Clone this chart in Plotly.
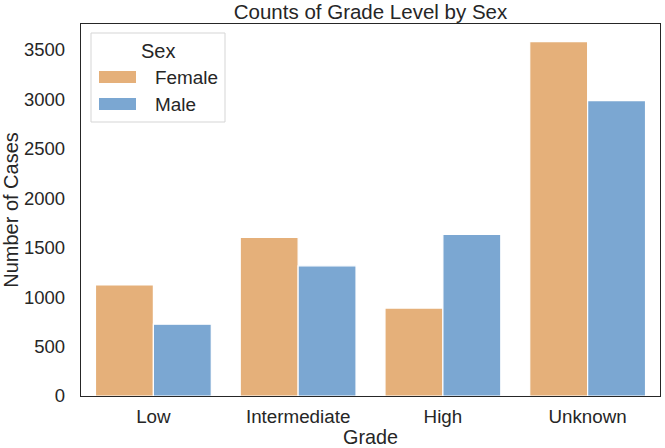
import plotly.graph_objects as go

# ---- data ----
grades = ["Low", "Intermediate", "High", "Unknown"]
sexes = ["Female", "Male"]
female_counts = [1122, 1603, 888, 3580]
male_counts = [726, 1315, 1633, 2985]
colors = ["#E5B07A", "#7BA7D2"]

series = [female_counts, male_counts]

W, H = 665, 448
L, R, T, B = 81, 5, 24, 52
PW, PH = W - L - R, H - T - B

def px(x):
    return (x - L) / PW

def py(y):
    return (H - B - y) / PH

fig = go.Figure()
for name, vals, col in zip(sexes, series, colors):
    fig.add_trace(go.Bar(
        x=grades, y=vals, name=name,
        marker=dict(color=col, line=dict(color="white", width=1.2)),
        showlegend=False,
    ))

font_fam = "Liberation Sans, Arial, sans-serif"
txt_col = "#262626"

fig.update_layout(
    width=W, height=H,
    margin=dict(l=L, r=R, t=T, b=B),
    paper_bgcolor="white", plot_bgcolor="white",
    barmode="group", bargap=0.2, bargroupgap=0,
    font=dict(family=font_fam, color=txt_col, size=18.7),
    title=dict(text="Counts of Grade Level by Sex", xref="paper", x=0.5, xanchor="center",
               yref="container", y=1 - 12 / H, yanchor="middle",
               font=dict(size=20.5, color=txt_col)),
    xaxis=dict(
        range=[-0.5, 3.5], showline=True, linecolor="#262626", linewidth=1.3,
        mirror=True, ticks="", showgrid=False, zeroline=False,
        tickfont=dict(size=18.8), ticklabelstandoff=3,
        title=dict(text="Grade", font=dict(size=19.8), standoff=0),
    ),
    yaxis=dict(
        range=[0, 3759], tickvals=[0, 500, 1000, 1500, 2000, 2500, 3000, 3500],
        showline=True, linecolor="#262626", linewidth=1.3, mirror=True,
        ticks="", showgrid=False, zeroline=False,
        tickfont=dict(size=18.5), ticklabelstandoff=11,
        title=dict(text="Number of Cases", font=dict(size=20), standoff=4),
    ),
)

# ---- custom legend (seaborn-like) ----
shapes = [dict(type="rect", xref="paper", yref="paper",
               x0=px(91), x1=px(225), y0=py(122), y1=py(33),
               line=dict(color="#D5D5D5", width=1), fillcolor="rgba(255,255,255,0.8)",
               layer="above")]
annotations = [dict(text="Sex", xref="paper", yref="paper", x=px(158), y=py(51),
                    xanchor="center", yanchor="middle", showarrow=False,
                    font=dict(size=20, color=txt_col))]
rows_y = [77, 104]
for name, col, yc in zip(sexes, colors, rows_y):
    shapes.append(dict(type="rect", xref="paper", yref="paper",
                       x0=px(99), x1=px(136), y0=py(yc + 6), y1=py(yc - 6),
                       line=dict(width=0), fillcolor=col, layer="above"))
    annotations.append(dict(text=name, xref="paper", yref="paper", x=px(153), y=py(yc),
                            xanchor="left", yanchor="middle", showarrow=False,
                            font=dict(size=18.9, color=txt_col)))
fig.update_layout(shapes=shapes, annotations=annotations)

fig.write_html("out.html")
